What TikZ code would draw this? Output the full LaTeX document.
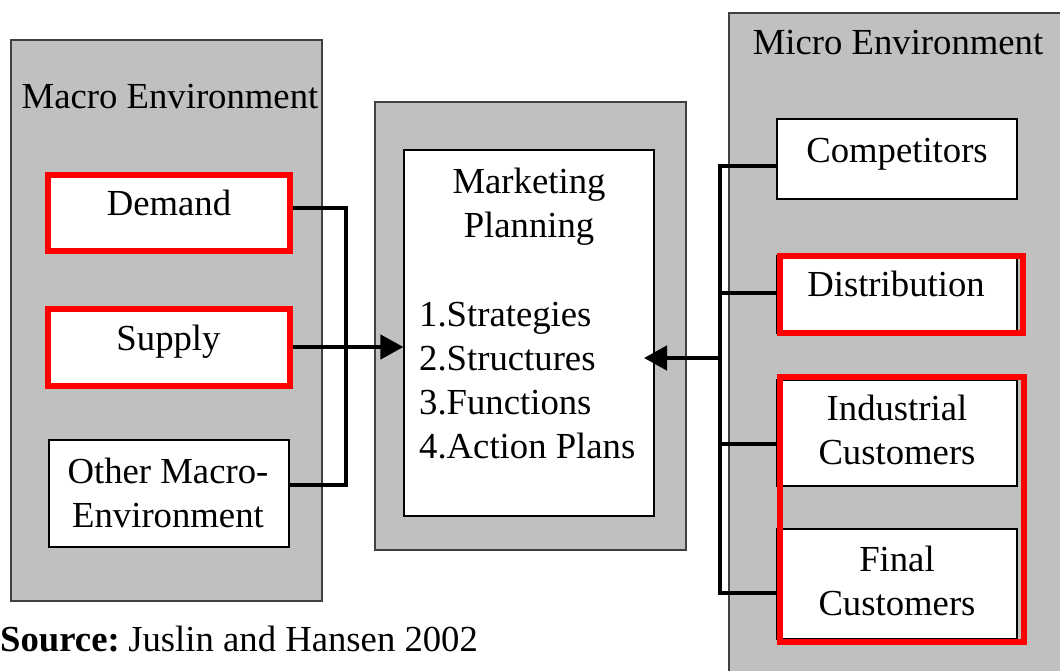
\documentclass[tikz,border=0pt]{standalone}
\usepackage{fontspec}
\setmainfont{Liberation Serif}
\usetikzlibrary{arrows.meta}
\definecolor{panelgray}{RGB}{192,192,192}
\definecolor{panelline}{RGB}{64,64,64}
\definecolor{markred}{RGB}{255,0,0}

\begin{document}
\begin{tikzpicture}[x=1pt,y=-1pt,
  every node/.style={font=\fontsize{36.7}{44}\selectfont, inner sep=0pt},
  panel/.style={draw=panelline, fill=panelgray, line width=1.3pt, outer sep=0pt},
  whitebox/.style={draw=black, fill=white, line width=1.2pt, outer sep=0.6pt},
  redbox/.style={draw=markred, fill=white, line width=6pt, outer sep=3pt},
  redframe/.style={draw=markred, line width=6pt, outer sep=3pt},
  conn/.style={draw=black, line width=4.5pt, line join=miter},
  label/.style={anchor=base, align=center},
]
\clip (0,0) rectangle (1060,671);

% background panels
\node[panel, minimum width=311pt, minimum height=561pt] (macro) at (166.5,320.5) {};
\node[panel, minimum width=311pt, minimum height=448pt] (midpanel) at (530.5,326) {};
\node[whitebox, minimum width=250pt, minimum height=366pt] (plan) at (529,333) {};
\node[panel, minimum width=351pt, minimum height=677pt] (micro) at (904.5,351.5) {};

% macro environment factors
\node[redbox, minimum width=242pt, minimum height=76pt] (demand) at (169,213) {};
\node[redbox, minimum width=242pt, minimum height=77pt] (supply) at (169,347.5) {};
\node[whitebox, minimum width=240pt, minimum height=107pt] (other) at (169,493.5) {};

% micro environment factors
\node[whitebox, minimum width=240pt, minimum height=80pt] (comp) at (897,159) {};
\node[whitebox, minimum width=240pt, minimum height=77pt] (dist) at (897,294.5) {};
\node[redframe, minimum width=243pt, minimum height=77pt] (distframe) at (901.5,294.5) {};
\node[whitebox, minimum width=240pt, minimum height=106pt] (indust) at (897,433) {};
\node[whitebox, minimum width=240pt, minimum height=110pt] (final) at (897,584) {};
\node[redframe, minimum width=244pt, minimum height=265pt] (custframe) at (902,509.5) {};

% left connectors
\coordinate (ljTop) at (346,208);
\coordinate (ljBot) at (346,485);
\draw[conn] (demand.east |- ljTop) -- (ljTop) -- (ljBot) -- (other.east |- ljBot);
\draw[conn, -{Triangle[length=23pt,width=24pt]}] (supply.east |- 0,347) -- (plan.west |- 0,347);

% right connectors
\coordinate (rjTop) at (720,166);
\coordinate (rjBot) at (720,593);
\coordinate (planTip) at (644,358);
\draw[conn] (comp.west |- rjTop) -- (rjTop) -- (rjBot) -- (final.west |- rjBot);
\draw[conn] (rjTop |- 0,293) -- (dist.west |- 0,293);
\draw[conn] (rjTop |- 0,444) -- (indust.west |- 0,444);
\draw[conn, -{Triangle[length=23pt,width=24pt]}] (rjTop |- planTip) -- (planTip);

% texts (multi-line texts are placed by the baseline of their last line)
\node[label] (macroT) at (170,109) {Macro Environment};
\node[label] (microT) at (898,55) {Micro Environment};
\node[label] (demandT) at (169,216) {Demand};
\node[label] (supplyT) at (168.5,350) {Supply};
\node[label] (otherT) at (168,527) {Other Macro-\\Environment};
\node[label] (planT) at (529,237) {Marketing\\Planning};
\node[anchor=base west, align=left] (listT) at (419,458) {1.Strategies\\2.Structures\\3.Functions\\4.Action Plans};
\node[label] (compT) at (897,163) {Competitors};
\node[label] (distT) at (896,296) {Distribution};
\node[label] (indT) at (897,464) {Industrial\\Customers};
\node[label] (finalT) at (897,615) {Final\\Customers};
\node[anchor=base west] (srcT) at (0,651) {\textbf{Source:}\hspace{8.5pt}Juslin and Hansen 2002};
\end{tikzpicture}
\end{document}
